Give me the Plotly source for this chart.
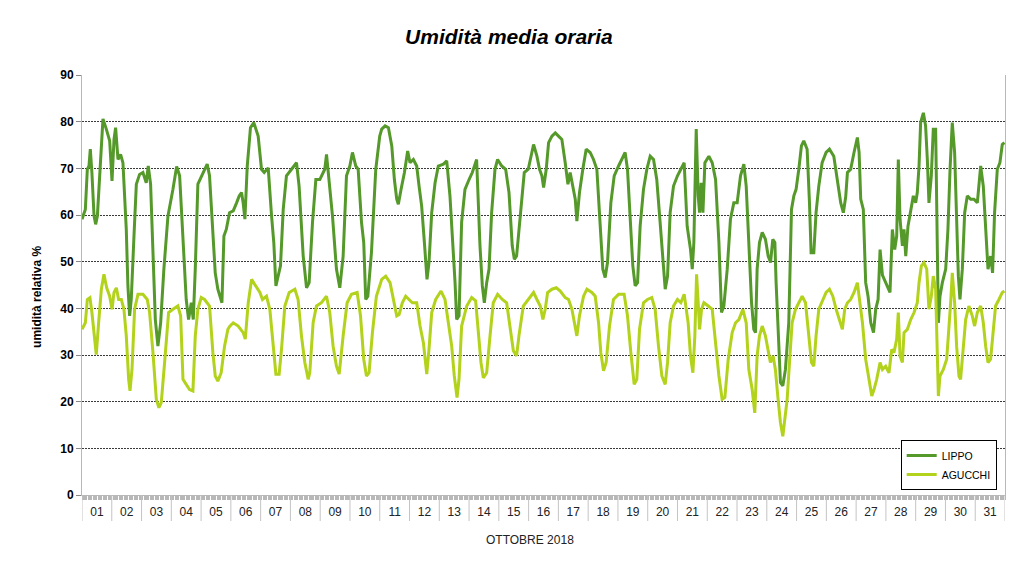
import pandas as pd
import plotly.graph_objects as go

# ---- data (hours since 1 Oct 2018 00:00, relative humidity %) ----
DAYS = [f"{d:02d}" for d in range(1, 32)]

LIPPO_HOURS = [
    0, 2.7, 4.3, 5.6, 6.7, 8, 9.7, 11, 12.4, 14.2, 16.9, 19.6, 22.3, 24.2, 25.8, 27.1, 29, 31.1, 33, 35.7,
    37, 38.4, 39.7, 41.9, 43.8, 46.4, 49.1, 51.8, 53.4, 55.3, 57.2, 59.1, 61.2, 63.4, 66, 69.3, 73.3, 76.3,
    78.7, 81.4, 84, 85.9, 88.1, 89.7, 91.3, 93.4, 96.7, 98.8, 100.9, 102.8, 105.5, 107.4, 109.5, 110.9,
    112.8, 114.4, 116.3, 118.9,
    121.9, 124.6, 126.7, 128.6, 129.9, 131.3, 133.2, 135.8, 138.5, 142, 144.7, 146.9, 150.1, 152.8, 154.6,
    156.3, 158.1, 160, 162.2, 164.8, 168.9, 172.9, 175, 178.3, 181, 183.1, 185.8, 188.5, 191.7, 195.7,
    197.1, 199.2, 201.9, 205.1, 207.8, 210.5, 213.2, 215.9, 218, 220.7, 222.6, 225.3, 227.1, 228.7, 230.4,
    233.3, 236.8, 240,
    241.6, 244.3, 247, 249.7, 251.8, 253.7, 255, 257.2, 259.9, 262.5, 264.4, 267.1, 269.8, 271.7, 273.8,
    276, 278.1, 279.7, 281.9, 284.6, 287.2, 291.3, 294, 296.6, 298.5, 300.7, 302, 303.9, 306, 308.7, 312,
    314.6, 318.1, 319.5, 320.8, 322.7, 324.3, 326.2, 328.1, 330.2, 332.9, 335, 338.3, 341.5, 344.2, 346.8,
    348.5, 350.3, 353, 356.5, 359.7, 362.4,
    364, 366.7, 368.8, 370.7, 372.1, 374.2, 376.1, 378.8, 381.5, 384.1, 386.8, 389.5, 391.7, 393.5, 395.7,
    397.6, 398.9, 401, 403.7, 406.4, 409.6, 412.3, 415, 417.7, 419.8, 421.7, 423.6, 426.3, 429, 432.5,
    435.2, 437.8, 439.7, 441.9, 444, 445.9, 447.8, 449.9, 452.6, 455.3, 458, 460.7, 463.3, 466, 468.2,
    470.1, 472, 474.1, 476.8, 480, 482.7, 485.4,
    487.8, 490.5, 491.9, 493.2, 495.1, 496.7, 497.8, 499.1, 500.5, 502.1, 505.3, 508, 510.7, 513.4, 515.5,
    517.4, 520.1, 522.7, 525.4, 528.1, 530.8, 533.5, 535.4, 537.5, 539.7, 541.5, 542.9, 544.2, 546.1,
    548.3, 550.9, 553.1, 555, 556.8, 558.5, 559.5, 561.1, 563, 564.9, 567, 569.7, 571.9, 573.8, 575.6,
    577.8, 579.9, 581.8, 584.5, 586.4, 587.7, 589.9, 591.7, 593.9, 596.6, 599.8, 602.5, 606, 608.7,
    611.6, 613.7, 615.6, 617, 619.6, 622.3, 625, 626.4, 627.7, 629.8, 631.7, 633.6, 635.8, 638, 639.8,
    641.7, 643.3, 645.2, 647.8, 649.7, 651.3, 653.2, 655.1, 656.7, 658, 659.4, 661.3, 662.6, 664, 665.8,
    668, 670.1, 672, 673.3, 674.7, 676, 678.2, 680, 681.4, 682.7, 684.6, 686.2, 688.1, 689.4, 690.3,
    691.6, 693.5, 696.2, 698, 699.7, 701.5, 703.4, 705, 706.4, 707.7, 709.6, 711.5, 713.6, 716.3, 719,
    721.7, 724.4, 726.5, 728.4, 730.3, 732.4, 734, 735.6, 737.8, 739.9, 741.8, 743.5,
]
LIPPO = [
    59.1, 61.2, 69.8, 70.5, 74.1, 69, 59.8, 58, 59.8, 67.6, 80.6, 78.4, 75.9, 67.3, 76.2, 78.7, 71.9, 73, 71.2, 56.9,
    44.8, 38.4, 41.9, 55.5, 66.6, 68.7, 69.1, 66.9, 70.5, 66.6, 52.6, 37.6, 31.9, 36.9, 48.4, 59.8, 65.5, 70.4,
    68.4, 55.5, 41.9, 37.6, 41.2, 37.6, 48.4, 66.6, 68.4, 69.8, 70.9, 68.4, 55.5, 47.6, 44.1, 42.6,
    41.2, 55.5, 56.9, 60.5,
    60.9, 62.6, 64.1, 64.8, 62.6, 59.1, 70.5, 78.7, 79.8, 76.9, 69.8, 69.1, 70.1, 59.8, 54.1,
    44.8, 46.9, 49.1, 61.2, 68.4, 69.8, 71.2, 66.2, 51.2, 44.4, 45.5, 58.4, 67.6, 67.6, 69.8,
    73, 67.6, 59.8, 48.4, 44.4, 51.2, 68.4, 70.5, 73.4, 70.5, 69.8, 58.4, 54.1, 41.9, 42.6,
    51.9, 69.8, 76.9,
    78.4, 79.1, 78.7, 74.8, 67.6, 63.4, 62.3, 65.5, 69.1, 73.7, 71.2, 71.9, 70.5, 66.2, 61.9,
    54.1, 46.2, 49.8, 60.5, 66.9, 70.5, 70.9, 71.6, 64.1, 56.2, 45.5, 37.6, 38.4, 58.4, 65.5, 67.6,
    69.1, 71.9, 62.6, 53.4, 44.8, 41.2, 45.5, 48.4, 60.5, 69.8, 71.9, 70.5, 69.8, 64.8, 53.4,
    50.5, 51.2, 59.1, 69.1, 69.8, 73,
    75.1, 72.6, 69.8, 68.4, 65.9, 69.8, 75.5, 76.9, 77.6, 76.9, 76.2, 71.2, 66.6, 69.1, 66.2,
    63.4, 58.7, 64.8, 69.8, 74.1, 73.4, 71.9, 69.8, 59.1, 48.4, 46.6, 49.8, 62.6, 68.4, 70.5,
    71.9, 73.4, 69.8, 59.1, 49.1, 44.8, 45.5, 57.6, 65.5, 69.8, 72.6, 71.9, 67.6, 58.4, 51.2,
    44.1, 46.9, 60.5, 66.2, 68.4, 69.8, 71.2,
    57.6, 52.6, 48.4, 54.1, 78.4, 64.1, 60.5, 66.9, 60.5, 71.2, 72.6, 71.2, 67.6, 54.1, 39.1,
    40.5, 48.4, 59.1, 62.6, 62.6, 68.4, 70.9, 66.2, 54.1, 41.2, 35.5, 34.8, 48.4, 54.1,
    56.3, 54.8, 51.2, 49.8, 54.8, 54.1, 45.5, 34.1, 24.1, 23.4, 26.9, 36.9, 61.2, 64.1, 65.5,
    69.8, 74.8, 75.9, 74.1, 62.6, 51.9, 51.9, 60.5, 66.2, 71.2, 73.4, 74.1, 72.6, 67.6,
    62.6, 60.5, 63.9, 69.1, 69.8, 73.4, 76.6, 73.4, 63.4, 61.2, 45.5, 42.6, 36.9, 34.8, 39.8,
    41.9, 52.6, 47.1, 45.5, 44.1, 43.4, 56.9, 52.6, 55.5, 71.9, 59.1, 53.4, 56.9, 51.2, 57.6,
    61.2, 64.1, 62.6, 64.8, 70.5, 79.8, 81.9, 79.1, 71.9, 62.6, 68.4, 78.4, 78.4, 59.1, 36.9,
    42.6, 45.5, 48.4, 56.9, 69.8, 79.8, 73.4, 59.1, 46.9, 41.9, 48.4, 60.5, 64.1, 63.4, 63.4,
    62.6, 70.5, 66.2, 56.9, 48.4, 51.2, 47.6, 60.5, 69.8, 71.2, 75.1, 75.5,
]

AGUCCHI_HOURS = [
    0, 2.7, 4.3, 6.4, 8, 10.2, 11.5, 13.4, 15.6, 17.7, 19.9, 22.3, 24.2, 25.8, 27.7, 29.5, 31.7, 33.8, 35.7,
    37.6, 38.7, 40.3, 42.4, 45.1, 49.1, 52.6, 54.5, 57.2, 59.9, 62, 63.9, 66.6, 69.8, 73.3, 77.3, 79.5,
    81.4, 84, 86.7, 89.4, 91.3, 93.4, 96.1, 98.8, 102.8, 105.5, 107.4, 109.5, 112.2, 114.9, 117.6,
    119.2, 121.9, 125.9, 129.9, 131.6, 134, 136.7, 140.1, 143.4, 145.5, 148.7, 151.4, 154.1, 156.3, 158.9,
    160.8, 163.5, 167, 171.6, 174.2, 176.9, 179.6, 182.3, 183.6, 186.3, 189, 193, 197.1, 199.7, 202.4,
    205.1, 207.3, 210.5, 213.7, 217.2, 221.8, 224.5, 227.1, 229.3, 231.4, 234.1, 237.3,
    241.6, 244.8, 248.3, 251, 253.7, 255.6, 258.2, 260.9, 263.6, 266.3, 269.8, 272.5, 275.2, 277.9, 279.7,
    281.9, 285.1, 289.4, 292.6, 295.3, 298, 300.1, 302.3, 303.9, 306, 310.1, 314.1, 317.3, 319.5, 321.6,
    323.5, 326.2, 328.9, 331.5, 335, 338.8, 342.3, 345, 347.7, 350.3, 352.2, 355.7, 359.7,
    364, 366.7, 369.4, 371.5, 373.4, 375.3, 378.8, 382.3, 385.5, 389.5, 392.2, 394.9, 397.6, 398.9, 401,
    404.3, 407, 411, 413.7, 416.4, 418.2, 420.4, 422.5, 425.2, 428.4, 432.5, 437, 439.7, 442.4, 445.1,
    447.2, 449.4, 452.6, 455.8, 459.3, 462, 464.7, 467.4, 470.1, 472, 474.1, 476.8, 480, 482.7, 485.4,
    488.6, 490.5, 492.4, 494, 495.4, 496.7, 497.8, 499.4, 501.3, 504.8, 508, 510.7, 513.4, 516, 518.2,
    520.9, 524.1, 526.8, 529.5, 532.7, 535.4, 537.5, 540.2, 542.3, 544.2, 546.1, 548.3, 550.9, 553.1,
    554.9, 557.1, 558.9, 561.1, 563, 564.9, 566.5, 568.4, 570.3, 572.4, 575.1, 577.8, 580.5, 583.2,
    585.8, 588, 589.9, 591.7, 593.9, 597.1, 599.8, 602.5, 605.2, 607.9,
    611, 612.9, 614.8, 617, 619.6, 622.3, 625, 627.2, 629.1, 631.7, 634.4, 636.6, 638.4, 640.6, 643.3,
    645.2, 647.8, 650.5, 652.7, 654.5, 656.7, 658, 659.4, 661.3, 662.6, 665.3, 668, 670.7, 673.3, 674.7,
    676.6, 678.7, 680.9, 682.7, 684.6, 686.2, 688.1, 689.4, 690.3, 691.6, 694.3, 697, 698.8, 700.2,
    701.5, 703.4, 705, 706.9, 708.2, 710.4, 712.3, 714.9, 717.6, 719.5, 721.7, 724.4, 726.5, 728.4,
    730.3, 732.4, 734.5, 736.4, 739.1, 741.8, 743.5,
]
AGUCCHI = [
    35.5, 36.9, 41.9, 42.3, 39.1, 32.6, 30.1, 36.9, 44.1, 47.3, 44.4, 42.6, 39.8, 43.4, 44.4, 41.9, 41.9, 39.8, 34.1,
    24.8, 22.3, 26.9, 39.8, 43, 43, 41.9, 39.1, 30.5, 20.5, 18.7, 19.8, 28.4, 39.1, 39.8, 40.5, 38.4,
    24.8, 23.7, 22.6, 22.3, 34.1, 39.8, 42.3, 41.9, 40.5, 30.5, 25.5, 24.4, 26.2, 31.9, 35.5,
    36.2, 36.9, 36.2, 34.8, 33.4, 41.2, 46.2, 44.8, 43.4, 41.9, 42.6, 39.8, 31.9, 25.9, 25.9,
    31.2, 40.5, 43.4, 44.1, 41.9, 34.1, 28.4, 24.8, 26.2, 36.9, 40.5, 41.2, 42.6, 39.1, 31.9,
    27.6, 25.9, 34.1, 41.2, 43, 43.4, 38.4, 29.1, 25.5, 26.2, 34.8, 42.6,
    46.2, 46.9, 45.5, 41.9, 38.4, 38.7, 41.2, 42.6, 41.9, 41.2, 41.2, 36.2, 32.6, 25.9, 31.2,
    39.1, 41.9, 43.7, 41.9, 36.9, 31.9, 25.5, 20.9, 24.8, 36.2, 40.5, 42.3, 41.6, 34.8, 28.4,
    25.1, 26.2, 34.1, 41.2, 43, 41.9, 41.2, 36.2, 30.9, 29.8, 34.1, 40.5, 41.9,
    43.4, 41.9, 40.5, 37.6, 39.8, 43.4, 44.1, 44.4, 43.7, 42.3, 41.9, 39.8, 36.2, 34.1, 38.4,
    42.6, 44.1, 43.4, 42.6, 36.9, 30.5, 26.6, 28.4, 36.2, 41.9, 43, 43, 38.4, 30.5, 23.7,
    24.8, 35.5, 41.2, 41.9, 42.3, 39.8, 31.9, 25.5, 23.7, 28.4, 36.9, 40.5, 41.9, 41.2, 43,
    36.9, 29.8, 26.2, 34.1, 47.3, 41.2, 35.5, 39.8, 41.2, 40.5, 39.8, 32.6, 25.5, 20.5, 20.9,
    29.1, 34.8, 36.9, 37.6, 39.8, 36.9, 26.9, 22.6, 17.6, 29.8, 34.1, 36.2, 34.1, 30.5,
    28.4, 29.8, 26.9, 20.5, 15.5, 12.6, 16.9, 20.5, 28.4, 36.9, 39.8, 41.2, 42.6, 41.2,
    34.1, 28.4, 27.6, 34.1, 39.8, 41.9, 43.4, 44.1, 42.6, 39.8,
    36.9, 35.5, 39.8, 41.2, 41.9, 43.4, 45.5, 41.2, 36.9, 29.1, 24.8, 21.2, 22.6, 24.8, 28.4,
    26.9, 27.6, 26.2, 31.2, 30.5, 33.4, 39.1, 29.8, 28.4, 34.8, 35.5, 37.6, 39.1, 41.2, 45.5,
    49.1, 49.8, 48.4, 39.8, 42.6, 46.9, 44.1, 29.1, 21.2, 25.5, 26.9, 29.1, 35.5, 41.2,
    47.6, 41.2, 31.9, 25.5, 24.8, 31.9, 37.6, 40.5, 38.4, 36.2, 39.1, 40.5, 36.9, 31.9,
    28.4, 29.1, 35.5, 40.5, 41.9, 43.4, 43.7,
]

SERIES = ["LIPPO", "AGUCCHI"]
COLORS = {"LIPPO": "#55992b", "AGUCCHI": "#b2d21c"}

START = pd.Timestamp("2018-10-01 00:00")


def to_time(hours):
    return [START + pd.Timedelta(hours=h) for h in hours]


fig = go.Figure()
fig.add_trace(go.Scatter(x=to_time(LIPPO_HOURS), y=LIPPO, mode="lines", name=SERIES[0],
                         line=dict(color=COLORS["LIPPO"], width=3)))
fig.add_trace(go.Scatter(x=to_time(AGUCCHI_HOURS), y=AGUCCHI, mode="lines", name=SERIES[1],
                         line=dict(color=COLORS["AGUCCHI"], width=3)))

FONT = "Liberation Sans, Arial, sans-serif"

# day separators below the axis
day_bounds = [START + pd.Timedelta(days=d) for d in range(len(DAYS) + 1)]
shapes = [dict(type="line", xref="x", yref="paper", x0=b, x1=b, y0=0, y1=-0.062,
               line=dict(color="#c4c4c4", width=1)) for b in day_bounds]

fig.update_layout(
    width=1024, height=565,
    margin=dict(l=82, r=19, t=75, b=70),
    paper_bgcolor="white", plot_bgcolor="white",
    font=dict(family=FONT, color="#000"),
    title=dict(text="<b><i>Umidità media oraria</i></b>", x=0.497, xanchor="center",
               y=1 - 37 / 565, yanchor="middle", yref="container",
               font=dict(family=FONT, size=21, color="#000")),
    showlegend=True,
    legend=dict(x=0.991, xanchor="right", y=0.012, yanchor="bottom",
                bgcolor="white", bordercolor="#000", borderwidth=1,
                font=dict(family=FONT, size=10.5, color="#000"),
                itemwidth=30, tracegroupgap=0),
    shapes=shapes,
    annotations=[
        dict(text="OTTOBRE 2018", xref="paper", yref="paper", x=0.485, y=-0.107,
             xanchor="center", yanchor="middle", showarrow=False,
             font=dict(family=FONT, size=12, color="#222")),
        dict(text="<b>umidità relativa %</b>", xref="paper", yref="paper", x=-0.049, y=0.471,
             xanchor="center", yanchor="middle", textangle=-90, showarrow=False,
             font=dict(family=FONT, size=12, color="#000")),
    ],
)

fig.update_xaxes(
    type="date",
    range=[START, START + pd.Timedelta(days=len(DAYS))],
    tickmode="array",
    tickvals=[START + pd.Timedelta(days=d, hours=12) for d in range(len(DAYS))],
    ticktext=DAYS,
    ticks="outside", ticklen=6, tickcolor="rgba(0,0,0,0)",
    tickfont=dict(family=FONT, size=12, color="#222"),
    showgrid=False, zeroline=False,
    showline=True, linecolor="#b8b8b8", linewidth=1,
    minor=dict(tickmode="linear", dtick=3600000, tick0=START, ticks="outside", ticklen=4,
               tickcolor="#b8b8b8", tickwidth=1, showgrid=False),
)

fig.update_yaxes(
    range=[0, 90], tickmode="linear", tick0=0, dtick=10,
    ticks="outside", ticklen=5, tickcolor="#888",
    tickfont=dict(family=FONT, size=12, color="#000", weight="bold"),
    showgrid=True, gridcolor="#3a3a3a", gridwidth=1, griddash="2px,1px",
    zeroline=False,
    showline=True, linecolor="#b8b8b8", linewidth=1, mirror=True,
)

fig.write_html("out.html", config={"displayModeBar": False},
               post_script="document.body.style.margin='0';")
